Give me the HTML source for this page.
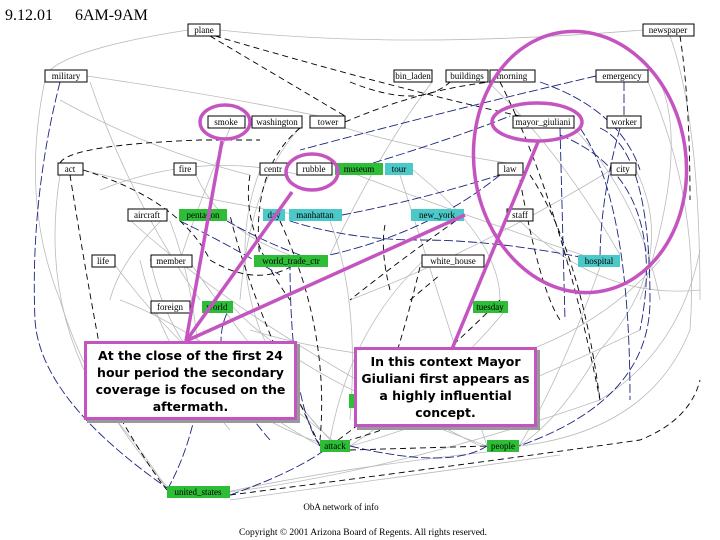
<!DOCTYPE html>
<html><head><meta charset="utf-8"><style>
body{margin:0;background:#fff;}
.w{position:relative;width:720px;height:540px;overflow:hidden;font-family:"Liberation Serif",serif;}
svg{position:absolute;left:0;top:0}
.cb{position:absolute;background:#fff;border:3px solid #c455c0;box-shadow:3px 3px 0 #999;font-family:"DejaVu Sans","Liberation Sans",sans-serif;font-weight:bold;font-size:12.5px;text-align:center;line-height:17px;color:#000;box-sizing:border-box;display:flex;align-items:center;justify-content:center;padding:0 4px}
</style></head><body><div class="w">
<svg width="720" height="540" font-family="Liberation Serif" font-size="9">
<g fill="none" stroke="#bbb" stroke-width="0.8">
<path d="M220 30 Q400 50 643 30"/><path d="M188 30 Q60 50 45 76"/><path d="M87 76 Q250 100 345 122"/>
<path d="M45 80 Q20 200 60 300 Q90 400 170 490"/><path d="M230 128 Q200 200 180 260"/>
<path d="M83 170 Q200 200 330 220"/><path d="M196 175 Q220 230 290 255"/><path d="M167 215 Q120 260 110 300"/>
<path d="M345 128 Q420 150 520 165"/><path d="M300 128 Q250 180 240 300"/><path d="M432 82 Q380 150 330 255"/>
<path d="M488 82 Q560 150 620 255"/><path d="M648 82 Q700 200 690 330 Q650 430 520 446"/>
<path d="M670 36 Q700 120 700 300"/><path d="M574 128 Q640 200 660 300"/><path d="M413 170 Q500 240 500 300"/>
<path d="M115 265 Q200 380 320 446"/><path d="M192 265 Q250 350 330 440"/><path d="M233 307 Q300 380 487 446"/>
<path d="M230 492 Q400 470 600 400 Q680 350 700 250"/><path d="M350 446 Q450 420 640 330"/>
<path d="M60 175 Q40 300 100 400 Q150 460 167 490"/><path d="M508 307 Q450 380 350 446"/>
<path d="M611 170 Q480 250 350 300"/><path d="M423 261 Q350 330 330 440"/><path d="M150 259 Q180 400 330 446"/>
<path d="M636 170 Q680 260 600 350 Q560 420 519 446"/><path d="M90 82 Q130 200 200 300"/>
<path d="M345 170 Q420 200 600 261"/><path d="M260 170 Q230 250 260 330 Q300 420 340 446"/>
<path d="M100 190 Q200 150 300 175"/><path d="M130 220 Q250 330 480 446"/><path d="M140 260 Q160 350 230 430"/>
<path d="M120 300 Q200 330 320 430"/><path d="M400 175 Q450 330 487 446"/><path d="M520 221 Q600 300 700 290"/>
<path d="M600 267 Q560 380 519 446"/><path d="M660 82 Q690 150 640 300"/><path d="M330 221 Q360 300 350 420"/>
<path d="M60 100 Q150 150 250 175"/><path d="M230 500 Q380 480 560 455"/><path d="M200 498 Q320 470 487 452"/>
<path d="M250 330 Q350 360 460 360"/><path d="M500 360 Q600 330 660 260"/><path d="M170 221 Q200 300 200 400"/>
</g>
<g fill="none" stroke="#000" stroke-width="0.9" stroke-dasharray="6 4">
<path d="M210 36 L345 116"/><path d="M215 36 Q400 90 520 116"/><path d="M83 170 Q180 200 210 260 Q260 290 300 261"/>
<path d="M60 163 Q70 145 200 140 L260 140"/><path d="M70 175 Q90 300 110 400 Q150 470 167 490"/>
<path d="M345 122 Q420 90 490 82"/><path d="M230 495 Q500 460 640 440 Q690 420 700 380"/>
<path d="M320 446 Q250 300 230 215"/><path d="M500 82 Q560 200 600 400"/><path d="M530 175 Q580 250 600 400"/>
<path d="M464 215 Q400 260 350 300"/><path d="M680 36 Q690 100 690 200"/><path d="M250 175 Q240 230 290 300"/>
<path d="M330 446 Q420 380 500 300"/><path d="M350 450 L487 446"/><path d="M420 267 Q400 350 380 400"/>
<path d="M300 128 Q250 170 260 260"/><path d="M350 82 Q420 110 450 82"/>
<path d="M280 221 Q330 330 320 440"/><path d="M385 225 Q380 250 390 290"/><path d="M410 300 L440 275"/>
<path d="M520 180 Q540 290 560 320"/><path d="M460 390 Q420 420 350 440"/>
</g>
<g fill="none" stroke="#1a237e" stroke-width="0.9" stroke-dasharray="9 3">
<path d="M60 82 Q30 200 35 320 Q40 400 170 490"/><path d="M596 76 Q450 110 300 150"/><path d="M540 82 Q620 110 640 170"/>
<path d="M624 82 L624 116"/><path d="M620 128 Q600 200 600 261"/><path d="M600 128 Q650 150 650 300 Q650 400 519 446"/>
<path d="M290 221 Q350 240 420 240 Q500 240 600 261"/><path d="M227 221 Q260 240 300 255"/><path d="M350 170 Q450 140 510 116"/>
<path d="M290 261 Q290 400 320 446"/><path d="M270 440 Q200 360 230 307"/><path d="M200 390 Q190 450 167 490"/>
<path d="M350 446 Q450 470 487 446"/><path d="M560 128 L565 320"/><path d="M580 128 Q630 200 630 400"/>
<path d="M230 495 Q300 470 330 446"/><path d="M500 175 Q420 240 300 261"/><path d="M342 215 Q420 200 500 175"/>
<path d="M560 135 Q670 180 640 330"/><path d="M180 221 Q220 240 280 275"/>
</g>
<g stroke="#000" stroke-width="1" fill="#fff">
<rect x="188" y="24" width="32" height="12"/><rect x="643" y="24" width="51" height="12"/>
<rect x="45" y="70" width="42" height="12"/><rect x="394" y="70" width="38" height="12"/>
<rect x="446" y="70" width="42" height="12"/><rect x="490" y="70" width="45" height="12"/>
<rect x="596" y="70" width="52" height="12"/><rect x="208" y="116" width="37" height="12"/>
<rect x="252" y="116" width="50" height="12"/><rect x="310" y="116" width="35" height="12"/>
<rect x="513" y="116" width="61" height="12"/><rect x="607" y="116" width="34" height="12"/>
<rect x="58" y="163" width="25" height="12"/><rect x="174" y="163" width="22" height="12"/>
<rect x="260" y="163" width="27" height="12"/><rect x="297" y="163" width="35" height="12"/>
<rect x="498" y="163" width="25" height="12"/><rect x="611" y="163" width="25" height="12"/>
<rect x="128" y="209" width="39" height="12"/><rect x="507" y="209" width="26" height="12"/>
<rect x="92" y="255" width="23" height="12"/><rect x="151" y="255" width="41" height="12"/>
<rect x="422" y="255" width="62" height="12"/><rect x="151" y="301" width="39" height="12"/>
</g>
<g stroke="none">
<rect x="335" y="163" width="48" height="12" fill="#2dbd37"/><rect x="385" y="163" width="28" height="12" fill="#4bc8c8"/>
<rect x="179" y="209" width="48" height="12" fill="#2dbd37"/><rect x="263" y="209" width="22" height="12" fill="#4bc8c8"/>
<rect x="289" y="209" width="53" height="12" fill="#4bc8c8"/><rect x="411" y="209" width="53" height="12" fill="#4bc8c8"/>
<rect x="254" y="255" width="74" height="12" fill="#2dbd37"/><rect x="578" y="255" width="42" height="12" fill="#4bc8c8"/>
<rect x="202" y="301" width="31" height="12" fill="#2dbd37"/><rect x="473" y="301" width="35" height="12" fill="#2dbd37"/>
<rect x="320" y="440" width="30" height="12" fill="#2dbd37"/><rect x="487" y="440" width="32" height="12" fill="#2dbd37"/>
<rect x="167" y="486" width="63" height="12" fill="#2dbd37"/><rect x="349" y="394" width="10" height="14" fill="#2dbd37"/>
</g>
<g text-anchor="middle" fill="#000">
<text x="204" y="33">plane</text><text x="668" y="33">newspaper</text><text x="66" y="79">military</text>
<text x="413" y="79">bin_laden</text><text x="467" y="79">buildings</text><text x="512" y="79">morning</text>
<text x="622" y="79">emergency</text><text x="226" y="125">smoke</text><text x="277" y="125">washington</text>
<text x="328" y="125">tower</text><text x="543" y="125">mayor_giuliani</text><text x="624" y="125">worker</text>
<text x="70" y="172">act</text><text x="185" y="172">fire</text><text x="273" y="172">centr</text>
<text x="314" y="172">rubble</text><text x="359" y="172">museum</text><text x="399" y="172">tour</text>
<text x="510" y="172">law</text><text x="623" y="172">city</text><text x="147" y="218">aircraft</text>
<text x="203" y="218">pentagon</text><text x="274" y="218">day</text><text x="315" y="218">manhattan</text>
<text x="437" y="218">new_york</text><text x="520" y="218">staff</text><text x="103" y="264">life</text>
<text x="171" y="264">member</text><text x="291" y="264">world_trade_ctr</text><text x="453" y="264">white_house</text>
<text x="599" y="264">hospital</text><text x="170" y="310">foreign</text><text x="217" y="310">world</text>
<text x="490" y="310">tuesday</text><text x="335" y="449">attack</text><text x="503" y="449">people</text>
<text x="198" y="495">united_states</text><text x="341" y="510">ObA network of info</text>
</g>
<g fill="none" stroke="#c455c0" stroke-width="3.5">
<ellipse cx="225" cy="122" rx="25" ry="17"/><ellipse cx="312" cy="172" rx="26" ry="18"/>
<ellipse cx="537" cy="122" rx="45" ry="19"/>
<ellipse cx="580" cy="162" rx="106" ry="131" transform="rotate(-8 580 162)"/>
<line x1="186" y1="341" x2="222" y2="141"/><line x1="186" y1="341" x2="292" y2="192"/>
<line x1="186" y1="341" x2="465" y2="215"/><line x1="452" y1="349" x2="538" y2="142"/>
</g>
<text x="5" y="20" font-size="16">9.12.01</text><text x="75" y="20" font-size="16">6AM-9AM</text>
<text x="363" y="535" font-size="9.5" text-anchor="middle">Copyright © 2001 Arizona Board of Regents. All rights reserved.</text>
</svg>
<div class="cb" style="left:84px;top:341px;width:213px;height:79px">At the close of the first 24 hour period the secondary coverage is focused on the aftermath.</div>
<div class="cb" style="left:354px;top:347px;width:183px;height:80px">In this context Mayor Giuliani first appears as a highly influential concept.</div>
</div></body></html>
